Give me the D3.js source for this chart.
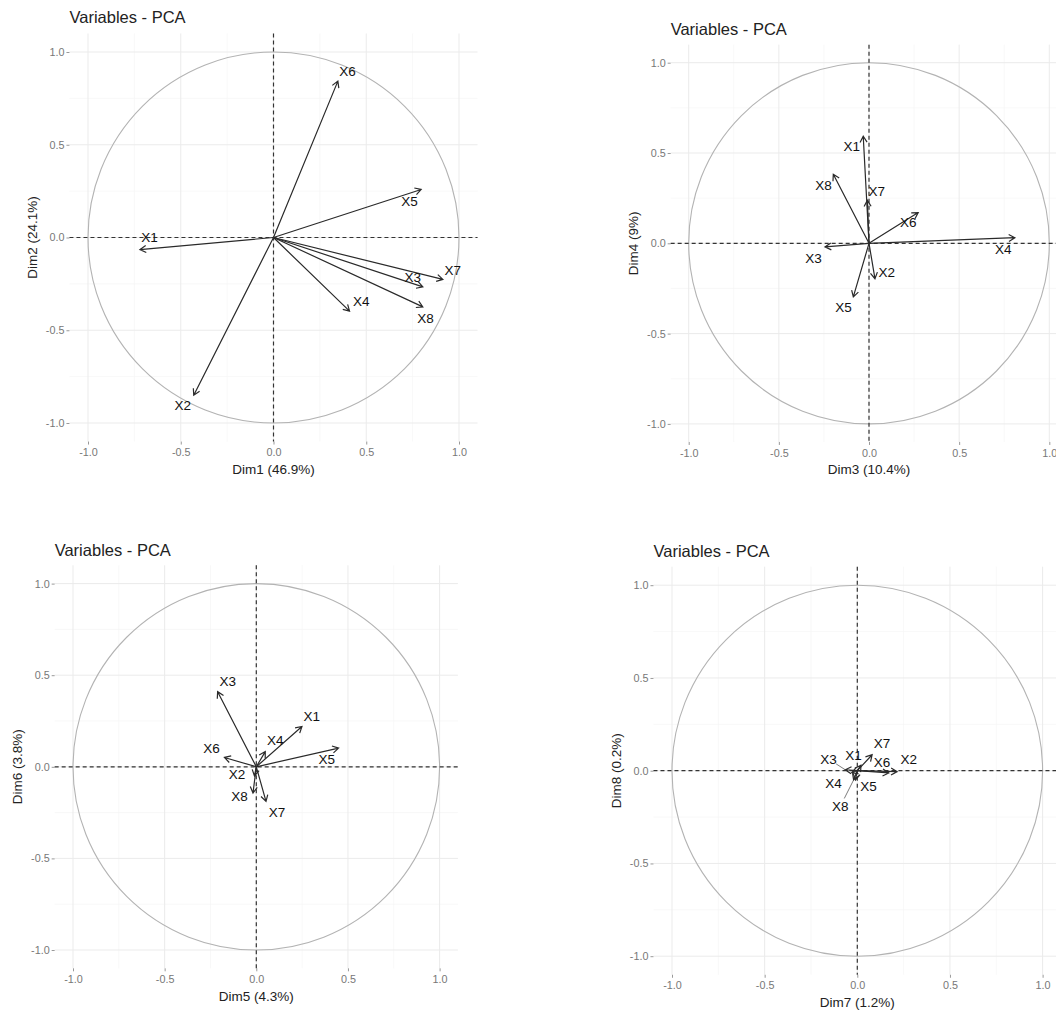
<!DOCTYPE html>
<html>
<head>
<meta charset="utf-8">
<title>Variables - PCA</title>
<script src="https://d3js.org/d3.v7.min.js"></script>
<style>
  body { margin:0; background:#fff; }
  svg { display:block; font-family:"Liberation Sans", Arial, sans-serif; }
  .grid-major { stroke:#ebebeb; stroke-width:1; }
  .grid-minor { stroke:#f5f5f5; stroke-width:0.7; }
  .circle { fill:none; stroke:#b3b3b3; stroke-width:1.1; }
  .zero { stroke:#333; stroke-width:1.2; stroke-dasharray:4,3; }
  .arrow { fill:none; stroke:#2a2a2a; stroke-width:1.2; }
  .seg { stroke:#444; stroke-width:0.7; }
  .axis .domain { display:none; }
  .axis line { stroke:#999; }
  .axis text { fill:#777; font-size:10.8px; }
  .title { font-size:16.5px; fill:#222; }
  .atitle { font-size:13.5px; fill:#222; }
  .vlab { font-size:13.5px; fill:#111; }
</style>
</head>
<body>
<script>
// variable coordinates on the eight dimensions
var names = ["X1", "X2", "X3", "X4", "X5", "X6", "X7", "X8"];
var dim1 = [-0.72, -0.43, 0.805, 0.41, 0.796, 0.347, 0.913, 0.805];
var dim2 = [-0.065, -0.85, -0.266, -0.397, 0.259, 0.843, -0.226, -0.374];
var dim3 = [-0.032, 0.033, -0.244, 0.809, -0.087, 0.273, -0.009, -0.198];
var dim4 = [0.593, -0.196, -0.02, 0.031, -0.297, 0.17, 0.238, 0.382];
var dim5 = [0.249, -0.01, -0.211, 0.049, 0.449, -0.174, 0.053, -0.018];
var dim6 = [0.22, -0.05, 0.41, 0.083, 0.102, 0.051, -0.189, -0.143];
var dim7 = [0.02, 0.215, -0.065, -0.03, -0.01, 0.17, 0.08, -0.02];
var dim8 = [0.03, -0.005, 0.005, -0.01, -0.05, -0.012, 0.086, -0.05];
var variance = [46.9, 24.1, 10.4, 9, 4.3, 3.8, 1.2, 0.2];
var dims = [dim1, dim2, dim3, dim4, dim5, dim6, dim7, dim8];

// repelled label positions (data units), one list per panel
var lab12 = [[-0.668, 0.0], [-0.489, -0.906], [0.751, -0.217], [0.473, -0.343],
             [0.733, 0.194], [0.399, 0.895], [0.967, -0.178], [0.819, -0.438]];
var lab34 = [[-0.096, 0.534], [0.098, -0.159], [-0.308, -0.085], [0.744, -0.035],
             [-0.142, -0.353], [0.218, 0.113], [0.043, 0.288], [-0.253, 0.321]];
var lab56 = [[0.303, 0.274], [-0.105, -0.044], [-0.156, 0.465], [0.104, 0.143],
             [0.385, 0.038], [-0.245, 0.102], [0.113, -0.249], [-0.091, -0.162]];
var lab78 = [[-0.02, 0.081], [0.278, 0.059], [-0.155, 0.063], [-0.128, -0.067],
             [0.061, -0.085], [0.133, 0.042], [0.133, 0.146], [-0.092, -0.193]];
// labels that get a leader segment
var seg78 = ["X3", "X8"];

var tickVals = [-1, -0.5, 0, 0.5, 1];
var minorVals = [-0.75, -0.25, 0.25, 0.75];

var width = 1056, height = 1012;

var panels = [
  {xd: 0, yd: 1, cx: 273.5, cy: 237.5, ux: 185.5, uy: 185.5, titleY: 23, labels: lab12, segs: []},
  {xd: 2, yd: 3, cx: 869, cy: 243.3, ux: 180.3, uy: 180.6, titleY: 35, labels: lab34, segs: []},
  {xd: 4, yd: 5, cx: 256.3, cy: 766.8, ux: 183.3, uy: 183.2, titleY: 556, labels: lab56, segs: []},
  {xd: 6, yd: 7, cx: 857.3, cy: 770.7, ux: 185.3, uy: 185.5, titleY: 557, labels: lab78, segs: seg78}
];

var svg = d3.select("body").append("svg")
    .attr("width", width)
    .attr("height", height);

svg.append("rect").attr("width", width).attr("height", height).attr("fill", "#fff");

panels.forEach(function(p) {
  var x = d3.scaleLinear().domain([-1, 1]).range([p.cx - p.ux, p.cx + p.ux]);
  var y = d3.scaleLinear().domain([-1, 1]).range([p.cy + p.uy, p.cy - p.uy]);
  var left = x(-1.1), right = x(1.1), top = y(1.1), bottom = y(-1.1);

  var g = svg.append("g");

  // grid
  g.selectAll(".gxm").data(minorVals).enter().append("line")
      .attr("class", "grid-minor")
      .attr("x1", x).attr("x2", x).attr("y1", top).attr("y2", bottom);
  g.selectAll(".gym").data(minorVals).enter().append("line")
      .attr("class", "grid-minor")
      .attr("y1", y).attr("y2", y).attr("x1", left).attr("x2", right);
  g.selectAll(".gx").data(tickVals).enter().append("line")
      .attr("class", "grid-major")
      .attr("x1", x).attr("x2", x).attr("y1", top).attr("y2", bottom);
  g.selectAll(".gy").data(tickVals).enter().append("line")
      .attr("class", "grid-major")
      .attr("y1", y).attr("y2", y).attr("x1", left).attr("x2", right);

  // axes
  var fmt = function(d) { return d.toFixed(1); };
  g.append("g").attr("class", "axis")
      .attr("transform", "translate(0," + bottom + ")")
      .call(d3.axisBottom(x).tickValues(tickVals).tickSize(3).tickPadding(4).tickFormat(fmt));
  g.append("g").attr("class", "axis")
      .attr("transform", "translate(" + left + ",0)")
      .call(d3.axisLeft(y).tickValues(tickVals).tickSize(3).tickPadding(2).tickFormat(fmt));

  // correlation circle
  g.append("ellipse").attr("class", "circle")
      .attr("cx", x(0)).attr("cy", y(0))
      .attr("rx", x(1) - x(0)).attr("ry", y(0) - y(1));

  // zero lines
  g.append("line").attr("class", "zero")
      .attr("x1", left).attr("x2", right).attr("y1", y(0)).attr("y2", y(0));
  g.append("line").attr("class", "zero")
      .attr("x1", x(0)).attr("x2", x(0)).attr("y1", top).attr("y2", bottom);

  var xs = dims[p.xd], ys = dims[p.yd];

  // arrows
  names.forEach(function(n, i) {
    var x0 = x(0), y0 = y(0), x1 = x(xs[i]), y1 = y(ys[i]);
    var a = Math.atan2(y1 - y0, x1 - x0), L = 7, h = Math.PI / 6;
    var d = "M" + x0 + "," + y0 + "L" + x1 + "," + y1 +
      "M" + (x1 - L * Math.cos(a - h)) + "," + (y1 - L * Math.sin(a - h)) +
      "L" + x1 + "," + y1 +
      "L" + (x1 - L * Math.cos(a + h)) + "," + (y1 - L * Math.sin(a + h));
    g.append("path").attr("class", "arrow").attr("d", d);
  });

  // leader segments
  names.forEach(function(n, i) {
    if (p.segs.indexOf(n) < 0) return;
    var lx = x(p.labels[i][0]), ly = y(p.labels[i][1]);
    var tx = x(xs[i]), ty = y(ys[i]);
    var dx = tx - lx, dy = ty - ly, len = Math.sqrt(dx * dx + dy * dy);
    var off = 9;
    g.append("line").attr("class", "seg")
        .attr("x1", lx + dx / len * off).attr("y1", ly + dy / len * off)
        .attr("x2", tx).attr("y2", ty);
  });

  // labels
  g.selectAll(".vlab").data(names).enter().append("text")
      .attr("class", "vlab")
      .attr("x", function(d, i) { return x(p.labels[i][0]); })
      .attr("y", function(d, i) { return y(p.labels[i][1]); })
      .attr("text-anchor", "middle")
      .attr("dominant-baseline", "central")
      .text(function(d) { return d; });

  // titles
  g.append("text").attr("class", "title")
      .attr("x", left).attr("y", p.titleY)
      .text("Variables - PCA");
  g.append("text").attr("class", "atitle")
      .attr("x", x(0)).attr("y", bottom + 28)
      .attr("text-anchor", "middle").attr("dominant-baseline", "central")
      .text("Dim" + (p.xd + 1) + " (" + variance[p.xd] + "%)");
  g.append("text").attr("class", "atitle")
      .attr("transform", "translate(" + (left - 37) + "," + y(0) + ") rotate(-90)")
      .attr("text-anchor", "middle").attr("dominant-baseline", "central")
      .text("Dim" + (p.yd + 1) + " (" + variance[p.yd] + "%)");
});
</script>
</body>
</html>
